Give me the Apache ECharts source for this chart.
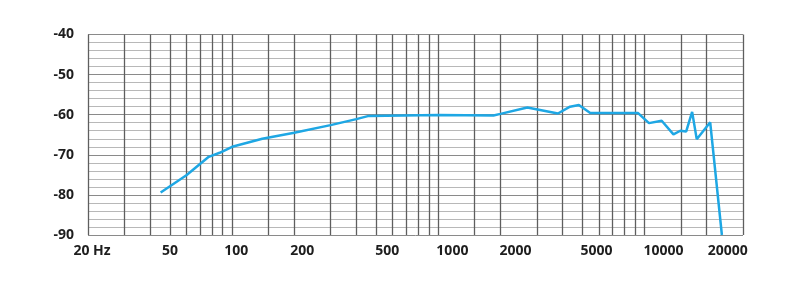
<!DOCTYPE html>
<html>
<head>
<meta charset="utf-8">
<script src="https://cdn.jsdelivr.net/npm/echarts@6/dist/echarts.min.js"></script>
<style>
html,body{margin:0;padding:0;background:#fff;}
#chart{width:800px;height:293px;}
</style>
</head>
<body>
<div id="chart"></div>
<script>
// Frequency response (Hz, dB)
var freqs = [45, 60, 77, 87, 100, 140, 200, 300, 400, 460, 1000, 1850, 2000, 2700, 3800, 4350, 4800, 5450, 9300, 10500, 12100, 13800, 14900, 15900, 17000, 17900, 20800, 23700];
var levels = [-79.4, -75.1, -70.5, -69.5, -68.0, -66.0, -64.5, -62.6, -61.1, -60.3, -60.1, -60.2, -59.8, -58.2, -59.7, -58.0, -57.6, -59.6, -59.6, -62.1, -61.5, -64.9, -64.0, -64.2, -59.3, -66.1, -61.9, -90];

// X tick labels
var xTickValues = [20, 50, 100, 200, 500, 1000, 2000, 5000, 10000, 20000];
var xTickLabels = ['20 Hz', '50', '100', '200', '500', '1000', '2000', '5000', '10000', '20000'];

// Vertical grid line frequencies
var gridFreqs = [20, 30, 40, 50, 60, 70, 80, 90, 100, 150, 200, 300, 400, 500, 600, 700, 800, 900, 1000, 1500, 2000, 3000, 4000, 5000, 6000, 7000, 8000, 9000, 10000, 15000, 20000, 30000];

// Y axis
var yMin = -90, yMax = -40, yStep = 2;

var FONT = '"Open Sans"';
var labelShift = {20: 4, 50: 0, 100: 4, 200: 8, 500: 11, 1000: 14, 2000: 15, 5000: 14, 10000: 19, 20000: 21};
var rich = {};
xTickValues.forEach(function (v) {
  rich['p' + v] = {fontFamily: FONT, fontWeight: 'bold', fontSize: 14, color: '#1e1e1e', padding: [0, 0, 0, 2 * (labelShift[v] || 0)]};
});

var chart = echarts.init(document.getElementById('chart'), null, {renderer: 'canvas'});
chart.setOption({
  animation: false,
  backgroundColor: '#fff',
  grid: {left: 88, right: 57, top: 34.5, bottom: 58, containLabel: false},
  xAxis: {
    type: 'log',
    logBase: 10,
    min: 20,
    max: 30000,
    axisLine: {show: false},
    axisTick: {show: false},
    splitLine: {show: false},
    minorSplitLine: {show: false},
    axisLabel: {
      customValues: xTickValues,
      margin: 9,
      formatter: function (v) {
        var r = Math.round(v);
        var i = xTickValues.indexOf(r);
        if (i < 0) return '';
        return '{p' + r + '|' + xTickLabels[i] + '}';
      },
      rich: rich
    }
  },
  yAxis: {
    type: 'value',
    min: yMin,
    max: yMax,
    interval: yStep,
    axisLine: {show: false},
    axisTick: {show: false},
    axisLabel: {
      margin: 14,
      fontFamily: FONT,
      fontWeight: 'bold',
      fontSize: 14,
      color: '#1e1e1e',
      formatter: function (v) { return (Math.round(v) % 10 === 0) ? String(v) : ''; }
    },
    splitLine: {
      show: true,
      lineStyle: {width: 1, color: ['#8a8a8a', '#b8b8b8', '#b8b8b8', '#b8b8b8', '#b8b8b8']}
    }
  },
  series: [{
    type: 'line',
    data: freqs.map(function (f, i) { return [f, levels[i]]; }),
    showSymbol: false,
    symbol: 'none',
    smooth: false,
    z: 5,
    lineStyle: {color: '#1ea7e4', width: 2.5},
    markLine: {
      silent: true,
      symbol: 'none',
      animation: false,
      label: {show: false},
      lineStyle: {color: '#5e5e5e', width: 1.3, type: 'solid'},
      data: gridFreqs.map(function (f) { return {xAxis: f}; })
    }
  }]
});
</script>
</body>
</html>
